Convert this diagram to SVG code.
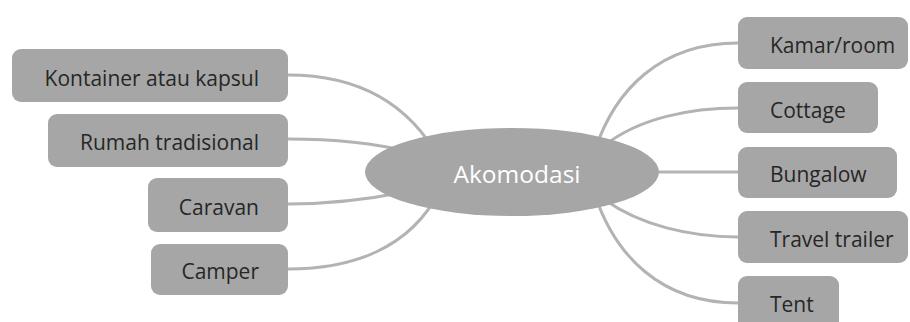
<svg xmlns="http://www.w3.org/2000/svg" width="910" height="322" viewBox="0 0 910 322">
<style>
.box{fill:#a6a6a6}
.lbl{font-family:"Open Sans","Noto Sans","Liberation Sans",sans-serif;font-size:21px;fill:#262626}
.l{text-anchor:end}
.c{fill:none;stroke:#b3b3b3;stroke-width:3}
</style>
<rect width="910" height="322" fill="#ffffff"/>
<g id="connectors">
<path class="c" d="M288,75 C360,75 410,105 440,160"/>
<path class="c" d="M288,139 C330,139 370,142 410,152"/>
<path class="c" d="M288,204 C330,204 365,200 405,192"/>
<path class="c" d="M288,269 C350,269 410,250 440,190"/>
<path class="c" d="M738,43 C660,43 615,90 595,150"/>
<path class="c" d="M738,108 C690,108 640,118 605,145"/>
<path class="c" d="M620,172 L738,172"/>
<path class="c" d="M738,237 C690,237 640,225 605,200"/>
<path class="c" d="M738,303 C660,303 615,255 595,195"/>
</g>
<g id="center">
<ellipse cx="512" cy="172" rx="147" ry="44" fill="#a6a6a6"/>
<text x="517" y="183" text-anchor="middle" class="lbl" style="fill:#ffffff;font-size:24.5px">Akomodasi</text>
</g>
<g id="kontainer"><rect class="box" x="12" y="49" width="276" height="53" rx="9"/><text class="lbl l" x="259" y="86">Kontainer atau kapsul</text></g>
<g id="rumah"><rect class="box" x="48" y="114" width="240" height="53" rx="9"/><text class="lbl l" x="259" y="150">Rumah tradisional</text></g>
<g id="caravan"><rect class="box" x="148" y="178" width="140" height="54" rx="9"/><text class="lbl l" x="259" y="215">Caravan</text></g>
<g id="camper"><rect class="box" x="151" y="244" width="137" height="51" rx="9"/><text class="lbl l" x="259" y="279">Camper</text></g>
<g id="kamar"><rect class="box" x="738" y="17" width="170" height="52" rx="9"/><text class="lbl" x="770" y="53">Kamar/room</text></g>
<g id="cottage"><rect class="box" x="738" y="82" width="140" height="51" rx="9"/><text class="lbl" x="770" y="118">Cottage</text></g>
<g id="bungalow"><rect class="box" x="738" y="147" width="159" height="51" rx="9"/><text class="lbl" x="770" y="182">Bungalow</text></g>
<g id="travel"><rect class="box" x="738" y="211" width="170" height="52" rx="9"/><text class="lbl" x="770" y="247">Travel trailer</text></g>
<g id="tent"><rect class="box" x="738" y="276" width="101" height="54" rx="9"/><text class="lbl" x="770" y="312">Tent</text></g>
</svg>
